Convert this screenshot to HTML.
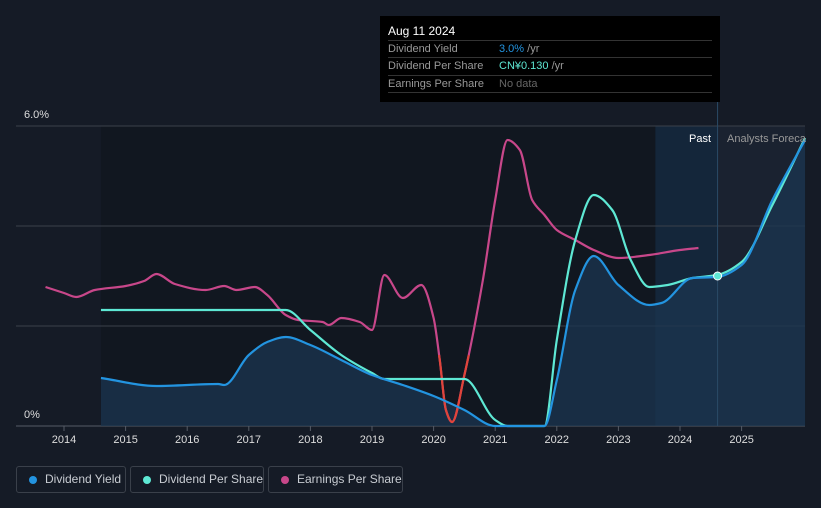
<!DOCTYPE html>
<html><head><meta charset="utf-8"><style>
body{margin:0;background:#151b26;font-family:"Liberation Sans",sans-serif;}
#wrap{position:relative;width:821px;height:508px;overflow:hidden;background:#151b26}
.tt{position:absolute;left:380px;top:16px;width:340px;height:86px;background:#000;color:#fff;font-size:11px}
.row{position:absolute;left:8px;width:324px;border-top:1px solid #333;height:17px;line-height:17px;color:#999}
.leg{position:absolute;top:466px;height:27px;border:1px solid #3a404a;border-radius:3px;color:#c8ccd2;font-size:12px;line-height:25px;box-sizing:border-box;padding-left:28px;white-space:nowrap}
.leg i{position:absolute;left:12px;top:9px;width:8px;height:8px;border-radius:50%}
</style></head><body>
<div id="wrap">
<svg id="svg" width="821" height="508" style="position:absolute;left:0;top:0"></svg>
<div class="tt">
<div style="position:absolute;left:8px;top:8px;font-size:12px">Aug 11 2024</div>
<div class="row" style="top:24px">Dividend Yield<span style="position:absolute;left:111px"><span style="color:#2394e0">3.0%</span> /yr</span></div>
<div class="row" style="top:41px">Dividend Per Share<span style="position:absolute;left:111px"><span style="color:#5ee8d4">CN¥0.130</span> /yr</span></div>
<div class="row" style="top:59px">Earnings Per Share<span style="position:absolute;left:111px;color:#666">No data</span></div>
<div class="row" style="top:76px;height:0"></div>
</div>
<div class="leg" style="left:16px;width:110px"><i style="background:#2394e0"></i>Dividend Yield</div>
<div class="leg" style="left:130px;width:134px"><i style="background:#5ee8d4"></i>Dividend Per Share</div>
<div class="leg" style="left:268px;width:135px"><i style="background:#c8478a"></i>Earnings Per Share</div>
</div>
<script>
const yieldYears=[2014.6,2015.5,2016.5,2016.6,2017,2017.3,2017.6,2018,2018.5,2019,2019.5,2020,2020.5,2021,2021.8,2022,2022.3,2022.6,2023,2023.5,2023.7,2024.2,2024.6,2025,2025.5,2026.03];
const yieldVals=[0.96,0.8,0.84,0.82,1.42,1.68,1.78,1.62,1.32,1.02,0.82,0.6,0.32,0,0,0.92,2.72,3.4,2.82,2.42,2.46,2.96,2.98,3.22,4.52,5.72];
const dpsYears=[2014.6,2017.6,2018,2018.5,2019,2019.2,2020.5,2021,2021.2,2021.8,2022,2022.3,2022.6,2022.9,2023.2,2023.5,2023.8,2024.2,2024.6,2025,2025.5,2026.03];
const dpsVals=[2.32,2.32,1.92,1.42,1.06,0.94,0.94,0.12,0,0,1.72,3.72,4.62,4.32,3.32,2.78,2.82,2.96,3.02,3.28,4.42,5.76];
const epsYears=[2013.7,2014,2014.2,2014.5,2015,2015.3,2015.5,2015.8,2016.3,2016.6,2016.8,2017.1,2017.3,2017.6,2017.8,2018.2,2018.3,2018.5,2018.8,2019,2019.2,2019.5,2019.8,2020,2020.1,2020.2,2020.3,2020.5,2020.8,2021,2021.2,2021.4,2021.6,2021.8,2022,2022.3,2022.6,2023,2023.5,2024,2024.3];
const epsVals=[2.78,2.66,2.58,2.72,2.8,2.9,3.04,2.84,2.72,2.8,2.72,2.78,2.62,2.22,2.12,2.08,2.02,2.16,2.08,1.92,3.02,2.56,2.82,2.16,1.32,0.32,0.08,1.02,2.92,4.52,5.72,5.52,4.52,4.22,3.92,3.72,3.52,3.36,3.42,3.52,3.56];
const xTicks=[2014,2015,2016,2017,2018,2019,2020,2021,2022,2023,2024,2025];
const yTicks=[0,2,4,6];
const X=y=>64+(y-2014)*61.6, Y=v=>426-v*50;
const NS='http://www.w3.org/2000/svg',svg=document.getElementById('svg');
function mk(t,a,p){const e=document.createElementNS(NS,t);for(const k in a)e.setAttribute(k,a[k]);(p||svg).appendChild(e);return e;}
function path(xs,vs){const p=xs.map((x,i)=>[X(x),Y(vs[i])]);const n=p.length;const dx=[],m=[],t=[];
for(let i=0;i<n-1;i++){dx[i]=p[i+1][0]-p[i][0];m[i]=(p[i+1][1]-p[i][1])/dx[i];}
t[0]=m[0];t[n-1]=m[n-2];for(let i=1;i<n-1;i++){t[i]=(m[i-1]*m[i]<=0)?0:(dx[i-1]+dx[i])*3/((2*dx[i]+dx[i-1])/m[i-1]+(dx[i]+2*dx[i-1])/m[i]);}
let d='M'+p[0];for(let i=0;i<n-1;i++){const h=dx[i]/3;d+='C'+(p[i][0]+h)+','+(p[i][1]+t[i]*h)+' '+(p[i+1][0]-h)+','+(p[i+1][1]-t[i+1]*h)+' '+p[i+1];}return d;}
let r=mk('rect',{x:X(2014.6),y:126,width:X(2023.6)-X(2014.6),height:300,fill:'#111720'});
r=mk('rect',{x:X(2023.6),y:126,width:X(2024.61)-X(2023.6),height:300,fill:'#14263a'});
r=mk('rect',{x:X(2024.61),y:126,width:805-X(2024.61),height:300,fill:'#1a2230'});
yTicks.forEach(v=>{const l=mk('line',{x1:16,x2:805,y1:Y(v),y2:Y(v),stroke:v==0?'#555b66':'#3a404a'});});
[0,6].forEach(v=>{const t=mk('text',{x:24,y:Y(v)-8,fill:'#ddd','font-size':11});t.textContent=v?v+'.0%':'0%';});
xTicks.forEach(y=>{mk('line',{x1:X(y),x2:X(y),y1:426,y2:431,stroke:'#555b66'});const t=mk('text',{x:X(y),y:443,fill:'#ddd','font-size':11,'text-anchor':'middle'});t.textContent=y;});
let d=path(yieldYears,yieldVals);
let a=mk('path',{d:d+'L'+X(2026.03)+',426L'+X(2014.6)+',426Z',fill:'#1b3550','fill-opacity':0.75});
mk('line',{x1:X(2024.61),x2:X(2024.61),y1:100,y2:426,stroke:'#2a4a66'});
let s=mk('path',{d:path(epsYears,epsVals),fill:'none',stroke:'#c8478a','stroke-width':2.2});
const cp=mk('clipPath',{id:'neg'});mk('rect',{x:0,y:355,width:821,height:80},cp);
mk('path',{d:path(epsYears,epsVals),fill:'none',stroke:'#e0443a','stroke-width':2.2,'clip-path':'url(#neg)'});
s=mk('path',{d:path(dpsYears,dpsVals),fill:'none',stroke:'#5ee8d4','stroke-width':2.2});
s=mk('path',{d:d,fill:'none',stroke:'#2394e0','stroke-width':2.2});
mk('circle',{cx:X(2024.61),cy:Y(3.0),r:4,fill:'#5ee8d4',stroke:'#fff','stroke-width':1});
let t=mk('text',{x:711,y:142,fill:'#fff','font-size':11,'text-anchor':'end'});t.textContent='Past';
t=mk('text',{x:727,y:142,fill:'#999','font-size':11});t.textContent='Analysts Foreca';
</script>
</body></html>
